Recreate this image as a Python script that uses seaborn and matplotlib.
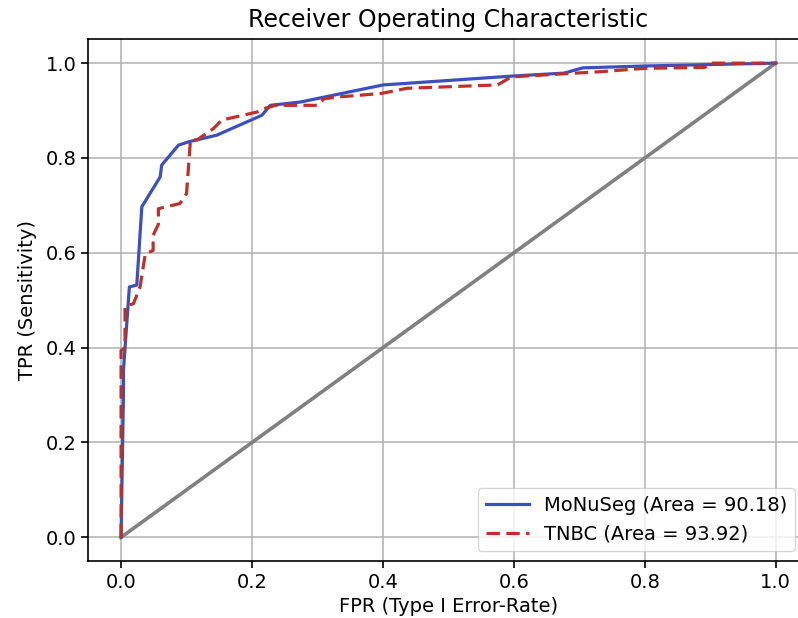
import matplotlib
matplotlib.use('Agg')
import matplotlib.pyplot as plt
import pandas as pd
import seaborn as sns

monuseg_fpr = [0.0, 0.0036, 0.0036, 0.0127, 0.024, 0.0317, 0.0597, 0.062, 0.0877,
               0.103, 0.146, 0.215, 0.228, 0.274, 0.40, 0.601, 0.677, 0.705, 0.80, 1.0]
monuseg_tpr = [0.0, 0.30, 0.352, 0.528, 0.532, 0.697, 0.760, 0.785, 0.827,
               0.834, 0.848, 0.890, 0.911, 0.918, 0.954, 0.973, 0.979, 0.990, 0.994, 1.0]

tnbc_fpr = [0.0, 0.0, 0.006, 0.006, 0.019, 0.029, 0.037, 0.049, 0.049, 0.057, 0.057,
            0.090, 0.100, 0.106, 0.116, 0.141, 0.154, 0.208, 0.218, 0.236, 0.30,
            0.31, 0.335, 0.397, 0.437, 0.575, 0.596, 0.733, 0.80, 0.892, 0.90, 1.0]
tnbc_tpr = [0.0, 0.394, 0.40, 0.486, 0.493, 0.528, 0.598, 0.605, 0.637, 0.660, 0.693,
            0.704, 0.725, 0.838, 0.838, 0.862, 0.880, 0.897, 0.904, 0.911, 0.911,
            0.925, 0.929, 0.936, 0.947, 0.954, 0.971, 0.982, 0.989, 0.991, 1.0, 1.0]

labels = ['MoNuSeg (Area = 90.18)', 'TNBC (Area = 93.92)']

df = pd.concat([
    pd.DataFrame({'fpr': monuseg_fpr, 'tpr': monuseg_tpr, 'model': labels[0]}),
    pd.DataFrame({'fpr': tnbc_fpr, 'tpr': tnbc_tpr, 'model': labels[1]}),
])

fig = plt.figure(figsize=(7.98, 6.18), dpi=100)
ax = fig.add_axes([0.1107, 0.0922, 0.9024, 0.844])

sns.lineplot(data=df, x='fpr', y='tpr', hue='model', style='model',
             palette=['#3a4fc0', '#c0302a'], dashes=['', (4.2, 2.0)],
             sort=False, estimator=None, linewidth=2.3, ax=ax)
ax.plot([0, 1], [0, 1], color='#808080', linewidth=2.6, zorder=1)

ax.set_xlim(-0.05, 1.05)
ax.set_ylim(-0.05, 1.05)
ax.grid(True, color='#b0b0b0', linewidth=1.1)
ax.set_axisbelow(True)
ax.tick_params(labelsize=14, width=1.2, length=5)
for s in ax.spines.values():
    s.set_linewidth(1.2)
ax.set_title('Receiver Operating Characteristic', fontsize=17, pad=9)
ax.set_xlabel('FPR (Type I Error-Rate)', fontsize=14, labelpad=4)
ax.set_ylabel('TPR (Sensitivity)', fontsize=14, labelpad=6)
ax.legend(loc='lower right', fontsize=14, title=None, handlelength=2.2,
          bbox_to_anchor=(0.995, 0.0), framealpha=0.8)

fig.savefig('out.png', dpi=100)
